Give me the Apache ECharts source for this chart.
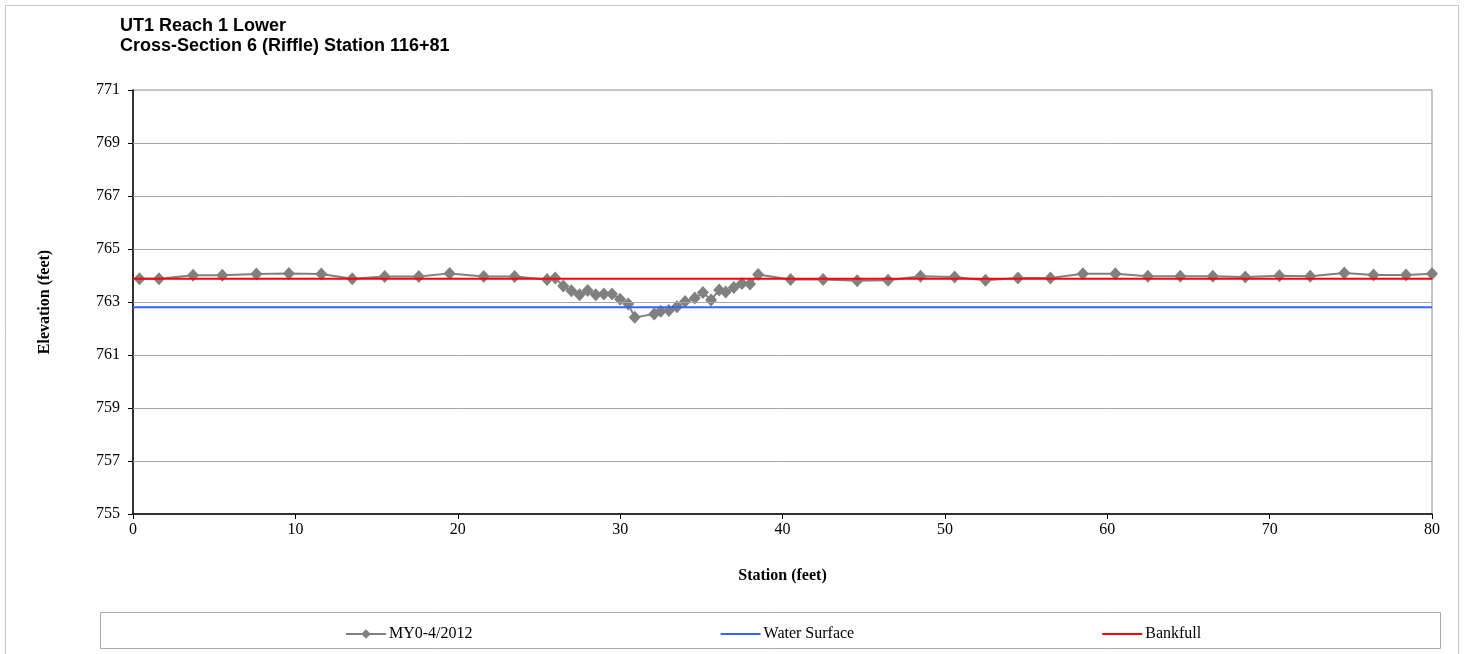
<!DOCTYPE html>
<html>
<head>
<meta charset="utf-8">
<title>UT1 Reach 1 Lower - Cross-Section 6</title>
<script src="https://cdn.jsdelivr.net/npm/echarts@6/dist/echarts.min.js"></script>
<style>
  html, body { margin: 0; padding: 0; background: #ffffff; }
  #chart { width: 1467px; height: 654px; }
</style>
</head>
<body>
<div id="chart"></div>
<script>
// Surveyed cross-section: station (ft) and elevation (ft)
const stations = [0.4, 1.6, 3.7, 5.5, 7.6, 9.6, 11.6, 13.5, 15.5, 17.6, 19.5, 21.6, 23.5,
  25.5, 26.0, 26.5, 27.0, 27.5, 28.0, 28.5, 29.0, 29.5, 30.0, 30.5, 30.9,
  32.1, 32.5, 33.0, 33.5, 34.0, 34.6, 35.1, 35.6, 36.1, 36.5, 37.0, 37.5, 38.0, 38.5,
  40.5, 42.5, 44.6, 46.5, 48.5, 50.6, 52.5, 54.5, 56.5, 58.5, 60.5, 62.5, 64.5,
  66.5, 68.5, 70.6, 72.5, 74.6, 76.4, 78.4, 80.0];
const elevations = [763.88, 763.88, 764.01, 764.01, 764.06, 764.08, 764.06, 763.88, 763.96, 763.96, 764.08, 763.96, 763.96,
  763.85, 763.91, 763.60, 763.42, 763.27, 763.43, 763.27, 763.30, 763.30, 763.10, 762.92, 762.42,
  762.55, 762.65, 762.68, 762.82, 763.02, 763.15, 763.36, 763.08, 763.45, 763.38, 763.55, 763.70, 763.68, 764.04,
  763.85, 763.85, 763.80, 763.82, 763.97, 763.94, 763.82, 763.91, 763.91, 764.07, 764.07, 763.97, 763.97,
  763.97, 763.94, 763.99, 763.97, 764.09, 764.02, 764.02, 764.07];

// Reference levels across the section
const waterSurfaceStations = [0, 80];
const waterSurfaceElev = [762.8, 762.8];
const bankfullStations = [0, 80];
const bankfullElev = [763.88, 763.88];

// Axis ticks
const yTicks = [755, 757, 759, 761, 763, 765, 767, 769, 771];
const xTicks = [0, 10, 20, 30, 40, 50, 60, 70, 80];

const seriesNames = ['MY0-4/2012', 'Water Surface', 'Bankfull'];
const titleLines = ['UT1 Reach 1 Lower', 'Cross-Section 6 (Riffle) Station 116+81'];

const pair = (xs, ys) => xs.map((x, i) => [x, ys[i]]);
const serif = "'Liberation Serif', 'Times New Roman', serif";
const sans = "'Liberation Sans', Arial, sans-serif";

const chart = echarts.init(document.getElementById('chart'), null, { renderer: 'canvas' });

chart.setOption({
  backgroundColor: '#ffffff',
  animation: false,
  title: {
    text: titleLines.join('\n'),
    left: 120,
    top: 16,
    padding: 0,
    textStyle: { fontFamily: sans, fontSize: 18, fontWeight: 'bold', color: '#000', lineHeight: 20 }
  },
  graphic: [
    { type: 'rect', shape: { x: 5.5, y: 5.5, width: 1453, height: 700 },
      style: { fill: 'none', stroke: '#c4c4c4', lineWidth: 1 }, silent: true, z: -10 },
    { type: 'rect', shape: { x: 100.5, y: 612.5, width: 1340, height: 36 },
      style: { fill: 'none', stroke: '#a8a8a8', lineWidth: 1 }, silent: true }
  ],
  legend: {
    data: [
      { name: seriesNames[0] },
      { name: seriesNames[1], itemStyle: { opacity: 0 } },
      { name: seriesNames[2], itemStyle: { opacity: 0 } }
    ],
    left: 340,
    top: 621,
    itemWidth: 40,
    itemHeight: 12,
    itemGap: 247,
    textStyle: { fontFamily: serif, fontSize: 16, color: '#000', padding: [0, 0, 0, -2] }
  },
  grid: {
    left: 133, right: 35, top: 90, bottom: 140,
    show: true, borderColor: '#8a8a8a', borderWidth: 1, backgroundColor: 'transparent'
  },
  xAxis: {
    type: 'value',
    min: 0, max: 80, interval: 10,
    name: 'Station (feet)',
    nameLocation: 'middle',
    nameGap: 54,
    nameTextStyle: { fontFamily: serif, fontSize: 16, fontWeight: 'bold', color: '#000' },
    axisLine: { show: true, onZero: false, lineStyle: { color: '#000', width: 1.5 } },
    axisTick: { show: true, length: 5, lineStyle: { color: '#000' }, customValues: xTicks },
    axisLabel: { fontFamily: serif, fontSize: 16, color: '#000', margin: 8, customValues: xTicks },
    splitLine: { show: false }
  },
  yAxis: {
    type: 'value',
    min: 755, max: 771,
    name: 'Elevation (feet)',
    nameLocation: 'middle',
    nameGap: 80,
    nameTextStyle: { fontFamily: serif, fontSize: 16, fontWeight: 'bold', color: '#000' },
    axisLine: { show: true, onZero: false, lineStyle: { color: '#000', width: 1.5 } },
    axisTick: { show: true, length: 5, lineStyle: { color: '#000' }, customValues: yTicks },
    axisLabel: { fontFamily: serif, fontSize: 16, color: '#000', margin: 13, customValues: yTicks },
    splitLine: { show: false }
  },
  series: [
    {
      name: seriesNames[0],
      type: 'line',
      data: pair(stations, elevations),
      symbol: 'diamond',
      symbolSize: [12, 13],
      showAllSymbol: true,
      itemStyle: { color: '#808080' },
      lineStyle: { color: '#808080', width: 2 },
      // horizontal gridlines at the labelled elevations
      markLine: {
        silent: true,
        symbol: 'none',
        label: { show: false },
        lineStyle: { color: '#a6a6a6', width: 1, type: 'solid' },
        data: yTicks.slice(1, -1).map(v => ({ yAxis: v }))
      },
      z: 2
    },
    {
      name: seriesNames[1],
      type: 'line',
      data: pair(waterSurfaceStations, waterSurfaceElev),
      symbol: 'none',
      itemStyle: { color: '#3366ff' },
      lineStyle: { color: '#3366ff', width: 2 },
      z: 3
    },
    {
      name: seriesNames[2],
      type: 'line',
      data: pair(bankfullStations, bankfullElev),
      symbol: 'none',
      itemStyle: { color: '#ff0000' },
      lineStyle: { color: '#ff0000', width: 2 },
      z: 4
    }
  ]
});
</script>
</body>
</html>
